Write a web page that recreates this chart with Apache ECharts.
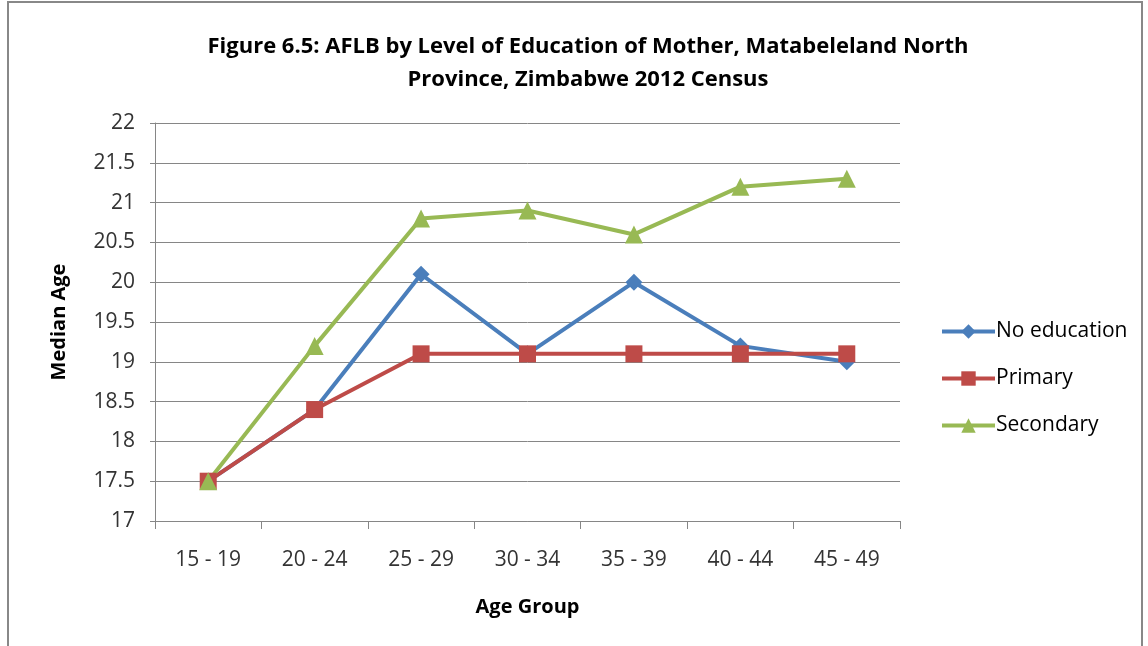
<!DOCTYPE html>
<html>
<head>
<meta charset="utf-8">
<script src="https://cdn.jsdelivr.net/npm/echarts@6/dist/echarts.min.js"></script>
<style>
  html, body { margin: 0; padding: 0; background: #fff; }
  #chart { width: 1148px; height: 646px; }
</style>
</head>
<body>
<div id="chart"></div>
<script>
const ageGroups = ['15 - 19', '20 - 24', '25 - 29', '30 - 34', '35 - 39', '40 - 44', '45 - 49']
const noEducation = [17.5, 18.4, 20.1, 19.1, 20.0, 19.2, 19.0]
const primary = [17.5, 18.4, 19.1, 19.1, 19.1, 19.1, 19.1]
const secondary = [17.5, 19.2, 20.8, 20.9, 20.6, 21.2, 21.3]

const font = 'Open Sans'
const chart = echarts.init(document.getElementById('chart'))

const mkSeries = (name, data, color, symbol, size) => ({
  name
  , type: 'line'
  , data
  , symbol
  , symbolSize: size
  , showAllSymbol: true
  , lineStyle: { color, width: 4 }
  , itemStyle: { color }
  , emphasis: { disabled: true }
  , animation: false
})

chart.setOption({
  backgroundColor: '#fff'
  , title: {
    text: 'Figure 6.5: AFLB by Level of Education of Mother, Matabeleland North\nProvince, Zimbabwe 2012 Census'
    , left: 583
    , textAlign: 'center'
    , top: 25
    , textStyle: { fontFamily: font, fontSize: 22, fontWeight: 'bold', color: '#000', lineHeight: 33 }
  }
  , graphic: [{
    type: 'rect'
    , shape: { x: 8, y: 2, width: 1134, height: 700 }
    , style: { fill: 'none', stroke: '#888', lineWidth: 2 }
    , silent: true
  }]
  , legend: {
    orient: 'vertical'
    , left: 935
    , top: 316
    , itemGap: 26
    , itemWidth: 53
    , itemHeight: 18
    , lineStyle: { width: 4 }
    , data: ['No education', 'Primary', 'Secondary']
    , textStyle: { fontFamily: font, fontSize: 21, color: '#000', padding: [0, 0, 0, -4] }
  }
  , grid: { left: 155, right: 248, top: 123, bottom: 125, containLabel: false }
  , xAxis: {
    type: 'category'
    , data: ageGroups
    , boundaryGap: true
    , name: 'Age Group'
    , nameLocation: 'middle'
    , nameGap: 76
    , nameTextStyle: { fontFamily: font, fontSize: 20, fontWeight: 'bold', color: '#000' }
    , axisLine: { lineStyle: { color: '#868686', width: 1 } }
    , axisTick: { show: true, length: 8, alignWithLabel: false, lineStyle: { color: '#868686' } }
    , axisLabel: { fontFamily: font, fontSize: 21, color: '#333', margin: 29 }
  }
  , yAxis: {
    type: 'value'
    , min: 17
    , max: 22
    , interval: 0.5
    , name: 'Median Age'
    , nameLocation: 'middle'
    , nameGap: 86
    , nameRotate: 90
    , nameTextStyle: { fontFamily: font, fontSize: 20, fontWeight: 'bold', color: '#000' }
    , axisLine: { show: true, lineStyle: { color: '#868686', width: 1 } }
    , axisTick: { show: true, length: 5, lineStyle: { color: '#868686' } }
    , axisLabel: { fontFamily: font, fontSize: 21, color: '#333', margin: 20 }
    , splitLine: { show: true, lineStyle: { color: '#868686', width: 1 } }
  }
  , series: [
    mkSeries('No education', noEducation, '#4A7EBB', 'diamond', 17)
    , mkSeries('Primary', primary, '#BE4B48', 'rect', 17)
    , mkSeries('Secondary', secondary, '#98B954', 'triangle', 18)
  ]
})
</script>
</body>
</html>
